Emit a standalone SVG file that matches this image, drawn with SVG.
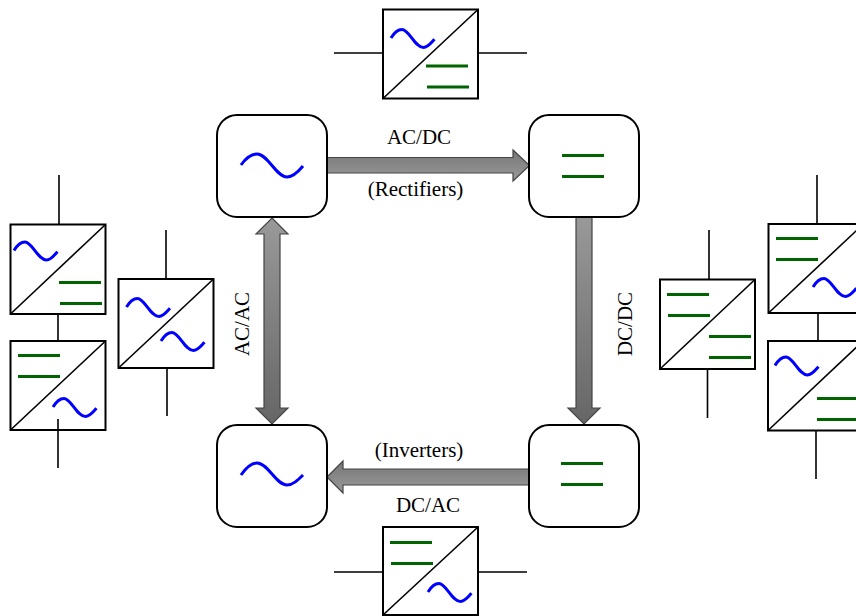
<svg xmlns="http://www.w3.org/2000/svg" width="856" height="616" viewBox="0 0 856 616">
<style>
.box{fill:#fff;stroke:#000;stroke-width:2}
.node{fill:#fff;stroke:#000;stroke-width:2}
.ln{fill:none;stroke:#000;stroke-width:1.6}
.w{fill:none;stroke:#0000ff;stroke-width:3}
.g{fill:none;stroke:#006400;stroke-width:3}
.ar{stroke:#444;stroke-width:1.2}
text{font-family:"Liberation Serif","Times New Roman",serif;font-size:21px;fill:#000;text-anchor:middle}
</style>
<defs>
<linearGradient id="gv" x1="0" y1="0" x2="0" y2="1"><stop offset="0" stop-color="#777"/><stop offset="1" stop-color="#999"/></linearGradient>
<linearGradient id="gd" x1="0" y1="0" x2="0" y2="1"><stop offset="0" stop-color="#999"/><stop offset="1" stop-color="#666"/></linearGradient>
<path id="sw" d="M0 0C3 -5 7 -8.5 11 -8.5C18 -8.5 24 9.5 32.5 9.5C37 9.5 40 5 43.5 1.3"/>
<path id="gg" d="M0 0H42M1 21H43"/>
<path id="g0" d="M0 0H42M0 21H42"/>
</defs>
<g id="connectors">
<path class="ar" fill="url(#gv)" d="M327 157.500H513V150L529.500 165.500L513 181V173H327Z"/>
<path class="ar" fill="url(#gd)" d="M576 217H592V408H600L584 424L568 408H576Z"/>
<path class="ar" fill="url(#gv)" d="M529 469H343V461L327 477L343 493V485H529Z"/>
<path class="ar" fill="url(#gd)" d="M272 218L288 234H280V408H288L272 424L256 408H264V234H256Z"/>
</g>
<g id="node-ac-top"><rect class="node" x="217" y="115" width="110" height="102" rx="20"/><path class="w" d="M241 165C246 158 251 154 257 154C268 154 276 177 287 177C293 177 298 172 303 166"/></g>
<g id="node-dc-top"><rect class="node" x="529" y="115" width="110" height="102" rx="20"/><use class="g" href="#g0" x="562" y="155.500"/></g>
<g id="node-ac-bottom"><rect class="node" x="217" y="425" width="110" height="102" rx="20"/><path class="w" d="M241 475C246 468 251 463 257 463C268 463 276 485 287 485C293 485 298 480 303 475"/></g>
<g id="node-dc-bottom"><rect class="node" x="529" y="425" width="110" height="102" rx="20"/><use class="g" href="#g0" x="561" y="463.500"/></g>
<g id="conv-top"><path class="ln" d="M334 53H383M478 53H527"/><rect class="box" x="383" y="9.500" width="95" height="89"/><path class="ln" d="M383 98.500L478 9.500"/><use class="w" href="#sw" x="391" y="38"/><use class="g" href="#gg" x="426" y="66"/></g>
<g id="conv-bottom"><path class="ln" d="M334 572H383M478 572H527"/><rect class="box" x="383" y="527" width="95" height="88"/><path class="ln" d="M383 615L478 527"/><use class="g" href="#gg" x="390" y="542.500"/><use class="w" href="#sw" x="428" y="592"/></g>
<g id="conv-left-a"><path class="ln" d="M59 175V224.500M58 314V341"/><rect class="box" x="10.500" y="224.500" width="95" height="89.500"/><path class="ln" d="M10.500 314L105.500 224.500"/><use class="w" href="#sw" x="14" y="250.500"/><use class="g" href="#gg" x="59" y="282.500"/></g>
<g id="conv-left-b"><rect class="box" x="10.500" y="341" width="95" height="89"/><path class="ln" d="M10.500 430L105.500 341M58 419V468"/><use class="g" href="#g0" x="18" y="355.500"/><use class="w" href="#sw" x="53" y="407"/></g>
<g id="conv-left-c"><path class="ln" d="M166 230V279M167 368V416"/><rect class="box" x="118.500" y="279" width="95" height="89"/><path class="ln" d="M118.500 368L213.500 279"/><use class="w" href="#sw" x="126.500" y="307"/><use class="w" href="#sw" x="161" y="341"/></g>
<g id="conv-right-d"><path class="ln" d="M709 230V279M707.500 369V418"/><rect class="box" x="660" y="279.500" width="95" height="89.500"/><path class="ln" d="M660 369L755 279.500"/><use class="g" href="#gg" x="667" y="294.500"/><use class="g" href="#g0" x="709" y="336.500"/></g>
<g id="conv-right-e"><path class="ln" d="M817 175V224M818 313V341"/><rect class="box" x="768.500" y="224" width="95" height="89"/><path class="ln" d="M768.500 313L863.500 224"/><use class="g" href="#g0" x="776" y="238.500"/><use class="w" href="#sw" x="813" y="287"/></g>
<g id="conv-right-f"><path class="ln" d="M816 430V479"/><rect class="box" x="768" y="341" width="95" height="89.500"/><path class="ln" d="M768 430.500L863 341"/><use class="w" href="#sw" x="775" y="365.500"/><use class="g" href="#g0" x="817" y="398.500"/></g>
<g id="labels">
<text x="419" y="144">AC/DC</text>
<text x="415.500" y="196">(Rectifiers)</text>
<text x="419" y="457">(Inverters)</text>
<text x="428" y="512">DC/AC</text>
<text transform="translate(249 324) rotate(-90)">AC/AC</text>
<text transform="translate(632 324) rotate(-90)">DC/DC</text>
</g>
</svg>
